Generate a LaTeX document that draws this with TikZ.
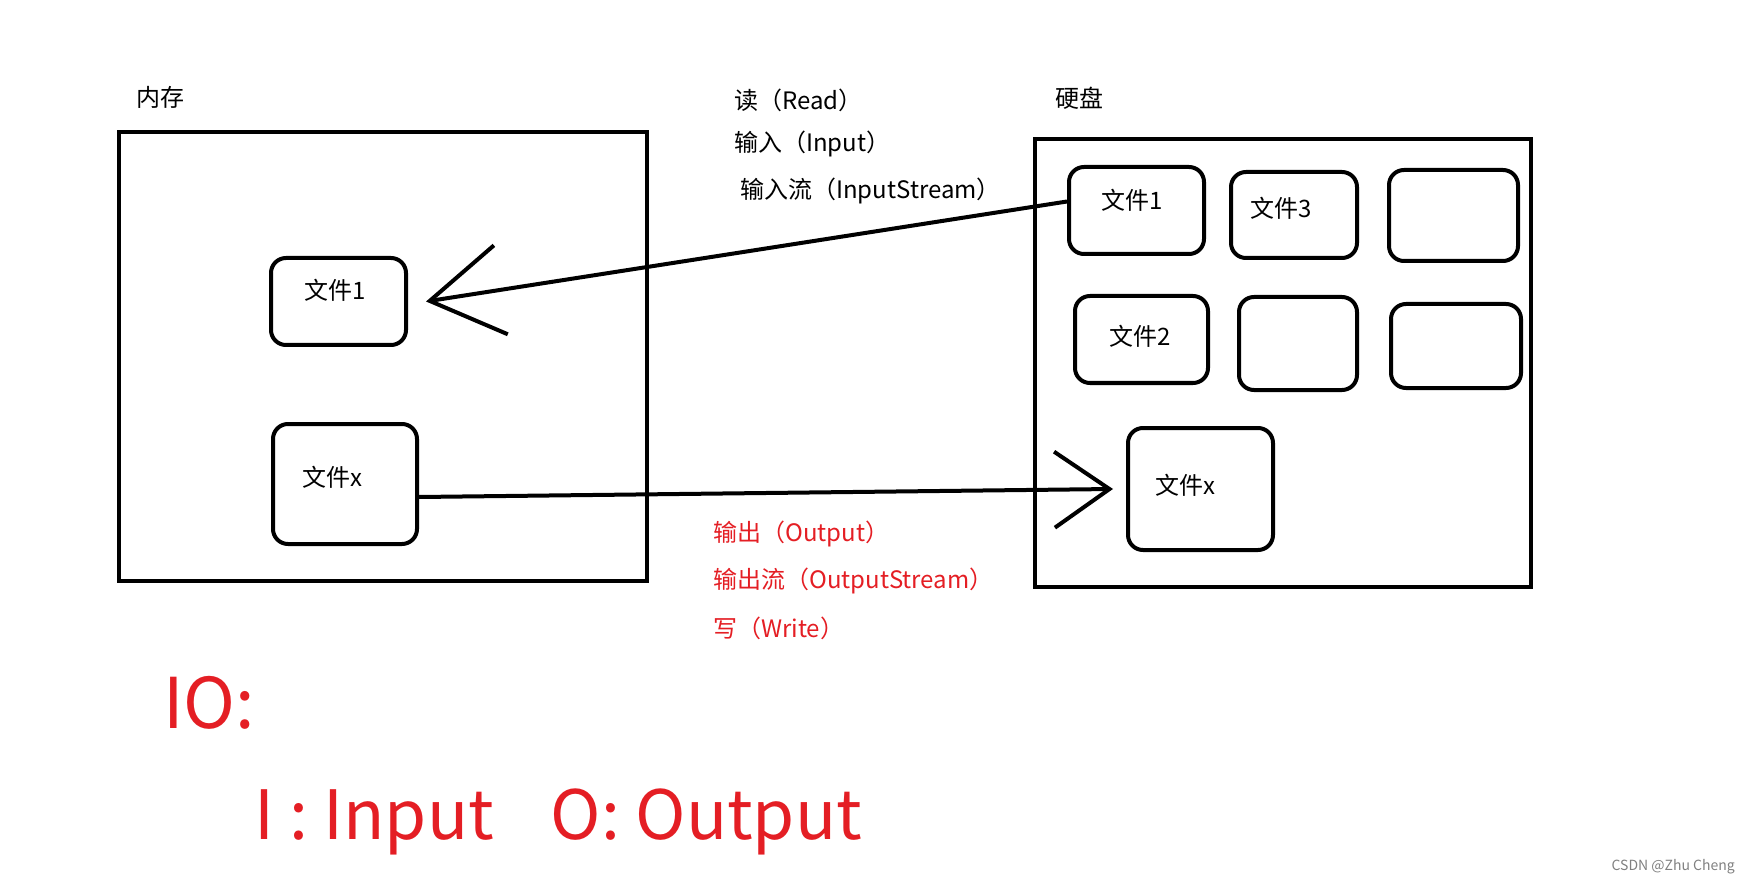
\documentclass[tikz,border=0pt]{standalone}
\usepackage{fontspec}
\setmainfont{Noto Sans CJK SC}
\usepackage{xcolor}
\usepackage{tikz}
\usetikzlibrary{arrows.meta}
\definecolor{iored}{RGB}{228,30,36}

\begin{document}
\begin{tikzpicture}[x=1pt, y=-1pt,
    bigbox/.style={draw, line width=4pt, inner sep=0pt},
    filebox/.style={draw, line width=4pt, rounded corners=15pt, inner sep=0pt},
    filetext/.style={inner sep=0pt, font=\fontsize{24}{28}\selectfont},
    tag/.style={anchor=west, inner sep=0pt, font=\fontsize{24}{28}\selectfont},
    flowline/.style={line width=4pt}]
    \useasboundingbox (0,0) rectangle (1749,885);

    % Memory (left)
    \node[tag] (memlabel) at (136,97) {内存};
    \node[bigbox, minimum width=528pt, minimum height=449pt] (mem) at (383,356.5) {};
    \node[filebox, minimum width=135pt, minimum height=87pt,
        label={[filetext, xshift=-3pt, yshift=11pt]center:文件1}] (mfile1) at (338.5,301.5) {};
    \node[filebox, minimum width=144pt, minimum height=120pt,
        label={[filetext, xshift=-13pt, yshift=7pt]center:文件x}] (mfilex) at (345,484) {};

    % Disk (right)
    \node[tag] (disklabel) at (1055,98) {硬盘};
    \node[bigbox, minimum width=496pt, minimum height=448pt] (disk) at (1283,363) {};
    \node[filebox, minimum width=135pt, minimum height=87pt,
        label={[filetext, xshift=-4pt, yshift=10pt]center:文件1}] (dfile1) at (1136.5,210.5) {};
    \node[filebox, minimum width=126pt, minimum height=86pt,
        label={[filetext, xshift=-13pt, yshift=7pt]center:文件3}] (dfile3) at (1294,215) {};
    \node[filebox, minimum width=129pt, minimum height=91pt] (dempty1) at (1453.5,215.5) {};
    \node[filebox, minimum width=133pt, minimum height=87pt,
        label={[filetext, xshift=-1pt, yshift=3pt]center:文件2}] (dfile2) at (1141.5,339.5) {};
    \node[filebox, minimum width=118pt, minimum height=93pt] (dempty2) at (1298,343.5) {};
    \node[filebox, minimum width=130pt, minimum height=84pt] (dempty3) at (1456,346) {};
    \node[filebox, minimum width=145pt, minimum height=122pt,
        label={[filetext, xshift=-15pt, yshift=4pt]center:文件x}] (dfilex) at (1200.5,489) {};

    % Read: disk -> memory
    \node[tag] (readlbl) at (734,100) {读（Read）};
    \node[tag] (inlbl) at (734,144) {输入（Input）};
    \node[tag] (instreamlbl) at (740,191) {输入流（InputStream）};
    \draw[flowline, -{Straight Barb[length=72pt, width=90pt]}] ([yshift=9pt]dfile1.west) -- ([xshift=18pt]mfile1.east);

    % Write: memory -> disk
    \draw[flowline, -{Straight Barb[length=55pt, width=76pt]}] ([yshift=-13pt]mfilex.east) -- ([xshift=-13pt]dfilex.west);
    \node[tag, iored] (outlbl) at (713,534) {输出（Output）};
    \node[tag, iored] (outstreamlbl) at (713,581) {输出流（OutputStream）};
    \node[tag, iored] (writelbl) at (713,628) {写（Write）};

    % IO
    \node[anchor=west, inner sep=0pt, iored, font=\fontsize{70}{80}\selectfont] (iotitle) at (163,703) {IO:};
    \node[anchor=base west, inner sep=0pt, iored, font=\fontsize{68}{80}\selectfont] (iolegend) at (254,839) {I : Input\hspace{57pt}O: Output};

    \node[anchor=east, inner sep=0pt, gray, font=\fontsize{14}{16}\selectfont] (mark) at (1735,867) {CSDN @Zhu Cheng};
\end{tikzpicture}
\end{document}
